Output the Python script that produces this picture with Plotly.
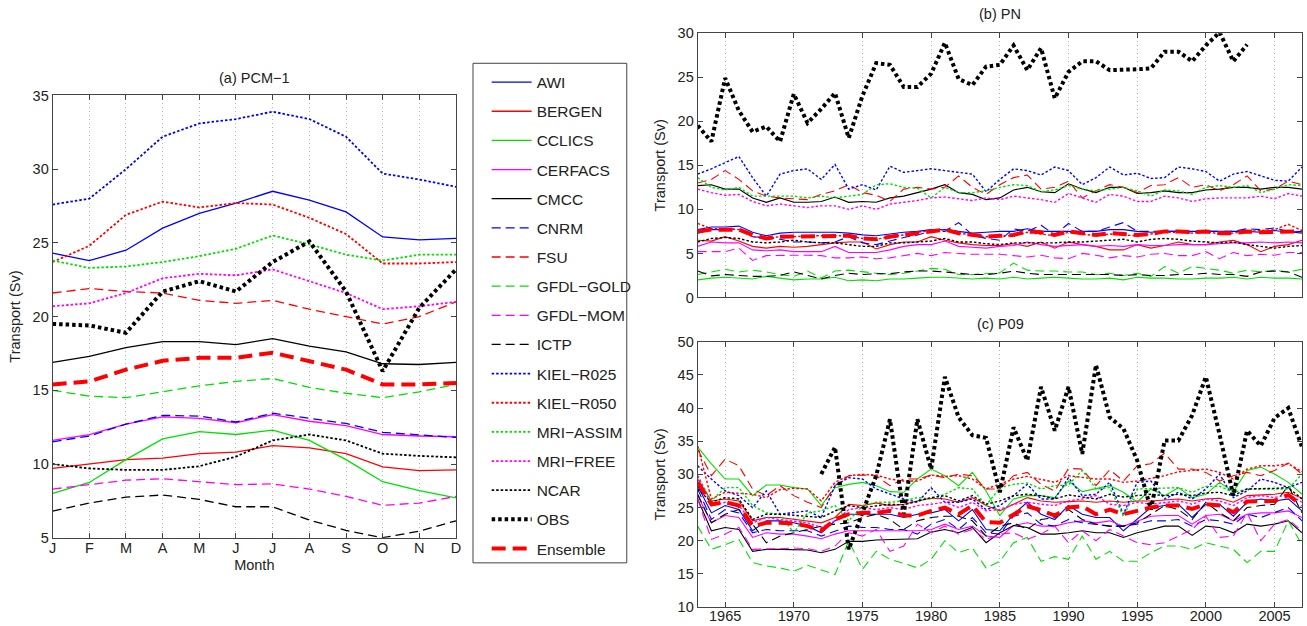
import plotly.graph_objects as go

# ---------------- data ----------------
month_labels = ["J", "F", "M", "A", "M", "J", "J", "A", "S", "O", "N", "D"]
month_x = list(range(1, 13))
years = list(range(1963, 2008))
year_ticks = [1965, 1970, 1975, 1980, 1985, 1990, 1995, 2000, 2005]

series_names = ["AWI", "BERGEN", "CCLICS", "CERFACS", "CMCC", "CNRM", "FSU",
                "GFDL−GOLD", "GFDL−MOM", "ICTP", "KIEL−R025", "KIEL−R050",
                "MRI−ASSIM", "MRI−FREE", "NCAR", "OBS", "Ensemble"]

# (a) PCM-1 monthly climatology
pcm_awi = [24.3, 23.8, 24.5, 26.0, 27.0, 27.7, 28.5, 27.9, 27.1, 25.4, 25.2, 25.3]
pcm_bergen = [9.7, 10.0, 10.3, 10.4, 10.7, 10.8, 11.25, 11.1, 10.7, 9.8, 9.55, 9.6]
pcm_cclics = [8.0, 8.75, 10.3, 11.7, 12.2, 12.0, 12.3, 11.6, 10.3, 8.8, 8.2, 7.7]
pcm_cerfacs = [11.6, 12.0, 12.7, 13.2, 13.1, 12.8, 13.35, 12.9, 12.6, 12.0, 11.9, 11.85]
pcm_cmcc = [16.9, 17.3, 17.9, 18.3, 18.3, 18.1, 18.5, 18.0, 17.6, 16.8, 16.75, 16.9]
pcm_cnrm = [11.5, 11.9, 12.7, 13.3, 13.25, 12.85, 13.45, 13.1, 12.75, 12.15, 12.0, 11.8]
pcm_fsu = [21.6, 21.9, 21.7, 21.6, 21.1, 20.9, 21.1, 20.5, 20.0, 19.5, 20.0, 21.0]
pcm_gold = [15.0, 14.6, 14.5, 14.9, 15.3, 15.6, 15.8, 15.2, 14.8, 14.5, 14.9, 15.4]
pcm_mom = [8.3, 8.6, 8.9, 9.0, 8.8, 8.6, 8.65, 8.3, 7.8, 7.2, 7.35, 7.8]
pcm_ictp = [6.8, 7.35, 7.75, 7.9, 7.6, 7.1, 7.1, 6.2, 5.5, 5.0, 5.45, 6.15]
pcm_k025 = [27.6, 28.0, 30.0, 32.2, 33.1, 33.4, 33.9, 33.4, 32.2, 29.7, 29.3, 28.8]
pcm_k050 = [23.7, 24.8, 26.9, 27.8, 27.4, 27.7, 27.6, 26.7, 25.6, 23.6, 23.6, 23.7]
pcm_assim = [23.8, 23.3, 23.4, 23.7, 24.1, 24.6, 25.5, 24.9, 24.2, 23.8, 24.2, 24.2]
pcm_free = [20.7, 20.9, 21.6, 22.6, 22.9, 22.8, 23.2, 22.4, 21.6, 20.5, 20.7, 21.0]
pcm_ncar = [10.0, 9.7, 9.6, 9.6, 9.85, 10.5, 11.6, 12.0, 11.6, 10.7, 10.55, 10.45]
pcm_obs = [19.5, 19.4, 18.9, 21.7, 22.4, 21.7, 23.7, 25.1, 21.7, 16.3, 20.6, 23.2]
pcm_ens = [15.4, 15.6, 16.4, 17.0, 17.2, 17.2, 17.55, 17.0, 16.4, 15.4, 15.4, 15.5]

# (b) PN annual means 1963-2007
pn_awi = [7.7, 8.0, 8.0, 8.1, 7.4, 7.0, 7.3, 7.4, 7.4, 7.4, 7.4, 7.3, 7.1, 7.0, 7.2, 7.4, 7.5, 7.7, 7.7, 7.5, 7.3,
          7.4, 7.5, 7.5, 7.8, 7.5, 7.5, 7.5, 7.5, 7.5, 7.7, 7.7, 7.5, 7.4, 7.5, 7.5, 7.5, 7.5, 7.5, 7.5, 7.5,
          7.4, 7.6, 7.4, 7.5]
pn_bergen = [6.5, 6.4, 6.9, 6.4, 5.8, 5.6, 5.8, 5.7, 5.8, 6.0, 6.2, 6.3, 6.3, 5.5, 6.0, 6.3, 6.3, 6.9, 6.5, 6.2, 6.0,
             5.9, 5.9, 6.1, 5.8, 6.3, 5.6, 6.3, 6.0, 5.8, 5.4, 5.4, 6.0, 5.6, 5.9, 6.3, 6.0, 6.0, 6.3, 6.5, 6.0,
             5.2, 5.8, 6.0, 6.5]
pn_cclics = [2.0, 2.2, 2.3, 2.2, 2.1, 2.4, 2.2, 2.0, 2.1, 2.1, 2.3, 1.9, 2.0, 1.9, 2.1, 2.1, 2.2, 2.3, 2.3, 2.2, 2.1,
             2.2, 2.1, 2.3, 2.1, 2.2, 2.3, 2.2, 2.1, 2.1, 2.2, 2.0, 2.3, 2.2, 2.2, 2.1, 2.1, 2.2, 2.2, 2.3, 2.1,
             2.3, 2.2, 2.2, 2.1]
pn_cerfacs = [5.8, 6.3, 6.2, 6.2, 5.4, 5.3, 5.4, 5.2, 5.2, 5.2, 5.8, 5.1, 5.1, 5.1, 5.4, 5.8, 6.0, 6.0, 6.4, 5.8, 5.7,
              5.6, 5.8, 5.9, 6.3, 6.0, 5.8, 5.9, 6.0, 5.8, 5.9, 5.8, 6.0, 5.9, 5.9, 6.0, 6.0, 6.0, 6.1, 6.2, 6.2,
              6.3, 6.2, 6.3, 6.2]
pn_cmcc = [12.7, 12.8, 12.3, 12.3, 11.3, 10.8, 11.3, 10.8, 10.8, 10.9, 11.4, 10.8, 10.9, 10.8, 11.3, 11.5, 11.9, 12.3,
           12.8, 11.9, 11.7, 11.1, 11.3, 12.2, 12.5, 12.0, 11.9, 12.9, 12.3, 11.9, 12.5, 12.5, 11.8, 11.9, 12.1, 11.9,
           11.9, 12.2, 12.3, 12.5, 12.5, 12.3, 12.5, 12.5, 12.3]
pn_cnrm = [7.3, 7.7, 7.7, 7.8, 6.9, 6.8, 6.6, 6.3, 6.3, 6.2, 6.3, 6.9, 6.2, 6.0, 6.4, 6.8, 7.1, 7.5, 7.5, 8.5, 7.1,
           6.7, 6.5, 7.8, 7.5, 8.2, 7.1, 8.4, 7.5, 7.5, 8.0, 8.5, 7.5, 7.5, 7.5, 7.5, 7.3, 7.5, 7.5, 7.5, 7.8,
           7.7, 7.9, 7.5, 7.3]
pn_fsu = [13.0, 13.4, 14.4, 13.4, 12.1, 11.5, 11.3, 11.2, 11.1, 11.7, 12.1, 12.8, 11.9, 11.6, 10.9, 12.3, 12.5, 12.3,
          12.5, 13.8, 12.5, 11.7, 12.8, 13.6, 13.9, 12.3, 12.5, 13.2, 11.3, 12.1, 12.8, 12.5, 11.9, 12.7, 12.8, 13.6,
          12.5, 12.8, 12.1, 12.8, 13.8, 12.1, 12.3, 13.2, 12.8]
pn_gold = [2.6, 2.9, 3.2, 2.9, 3.1, 2.9, 2.6, 2.4, 3.0, 2.2, 3.0, 3.1, 2.9, 2.75, 2.6, 2.75, 3.0, 3.3, 3.2, 2.6, 2.6,
           2.7, 2.8, 3.9, 3.1, 3.0, 3.0, 2.9, 2.9, 2.6, 2.75, 2.5, 2.75, 2.4, 3.5, 2.75, 3.5, 3.3, 3.1, 2.75, 3.1,
           2.9, 3.1, 2.9, 3.2]
pn_mom = [5.2, 5.2, 5.2, 5.6, 4.2, 4.75, 4.8, 4.8, 4.8, 4.75, 4.5, 4.5, 4.6, 4.4, 4.5, 4.75, 5.0, 4.75, 5.1, 5.0, 4.9,
          4.9, 4.9, 4.75, 4.6, 4.8, 4.5, 4.4, 5.0, 4.8, 4.5, 4.75, 4.6, 4.9, 5.0, 4.75, 4.75, 5.2, 4.4, 5.1, 4.75,
          4.9, 4.8, 5.1, 5.1]
pn_ictp = [3.0, 2.45, 2.6, 2.5, 2.4, 2.4, 2.5, 2.9, 2.5, 2.1, 2.5, 2.75, 2.6, 2.7, 2.7, 2.9, 3.0, 3.0, 2.9, 2.75, 2.6,
           2.6, 2.75, 3.0, 2.75, 2.6, 2.6, 2.6, 2.6, 2.6, 2.6, 2.5, 2.6, 2.5, 2.5, 2.6, 2.6, 2.75, 2.6, 2.6, 2.4,
           2.9, 3.0, 2.9, 2.3]
pn_k025 = [14.0, 14.6, 15.3, 16.0, 13.6, 11.5, 14.0, 14.4, 14.6, 13.4, 15.1, 12.3, 12.8, 12.2, 14.9, 14.2, 14.4, 14.6,
           14.4, 14.2, 14.0, 12.0, 13.4, 14.6, 14.4, 13.9, 14.8, 14.4, 12.8, 13.6, 14.8, 13.9, 14.1, 13.5, 13.6, 14.8,
           14.6, 14.3, 13.2, 14.0, 14.3, 13.8, 13.3, 13.2, 14.8]
pn_k050 = [8.4, 7.8, 7.8, 7.7, 6.9, 6.7, 6.9, 6.9, 7.0, 7.0, 7.0, 7.0, 6.7, 6.6, 6.9, 7.1, 7.4, 7.6, 7.7, 7.3, 7.1,
           6.9, 7.0, 7.0, 7.4, 7.2, 7.0, 7.4, 7.2, 7.0, 7.2, 7.1, 7.0, 7.2, 7.4, 7.4, 7.3, 7.5, 7.2, 7.3, 7.5,
           7.6, 7.7, 8.3, 7.6]
pn_assim = [13.6, 12.5, 12.2, 12.5, 11.5, 11.5, 11.5, 11.5, 11.3, 11.5, 11.3, 11.5, 11.7, 12.8, 12.9, 12.5, 12.4, 11.3,
            12.5, 11.9, 11.9, 12.1, 12.5, 12.8, 12.7, 12.0, 12.2, 12.7, 12.3, 12.1, 12.3, 12.5, 12.1, 11.5, 12.2, 12.1,
            11.7, 12.5, 12.7, 12.5, 12.7, 11.9, 12.3, 12.8, 12.7]
pn_free = [12.3, 11.9, 11.6, 11.7, 10.9, 10.4, 10.6, 10.4, 10.2, 10.4, 10.4, 10.0, 10.4, 10.0, 10.6, 10.8, 11.0, 11.3,
           11.4, 11.2, 11.0, 11.3, 11.1, 11.5, 11.3, 11.1, 10.8, 11.8, 11.3, 10.8, 11.7, 11.5, 10.9, 10.9, 11.5, 11.3,
           10.9, 11.2, 11.3, 11.3, 11.3, 11.5, 11.2, 11.8, 11.5]
pn_ncar = [6.3, 6.7, 6.8, 6.7, 6.3, 6.2, 6.3, 6.5, 6.3, 6.2, 6.2, 6.0, 5.8, 5.8, 6.2, 6.2, 6.3, 6.4, 6.7, 6.3, 6.3,
           6.1, 6.0, 6.2, 6.2, 6.2, 6.2, 6.3, 6.3, 6.4, 6.5, 6.6, 6.3, 6.6, 6.7, 6.6, 6.4, 6.3, 6.2, 6.3, 6.0,
           5.8, 5.6, 5.8, 5.9]
pn_obs = [19.5, 17.7, 24.9, 21.2, 18.8, 19.4, 17.7, 23.1, 19.8, 21.4, 23.2, 18.1, 22.9, 26.6, 26.4, 23.9, 23.9, 25.4,
          28.9, 24.8, 24.1, 26.2, 26.4, 28.6, 25.8, 28.3, 22.6, 25.6, 26.8, 26.8, 25.8, 25.8, 25.9, 26.0, 27.9, 27.9,
          26.8, 28.6, 30.1, 26.8, 28.7, None, None, None, None]
pn_ens = [7.5, 7.7, 7.7, 7.7, 7.1, 6.7, 6.9, 6.9, 7.0, 7.0, 7.0, 7.0, 6.7, 6.6, 6.9, 7.1, 7.4, 7.6, 7.7, 7.3, 7.1,
          6.9, 7.0, 7.1, 7.5, 7.4, 7.1, 7.5, 7.3, 7.1, 7.3, 7.2, 7.1, 7.2, 7.5, 7.5, 7.4, 7.5, 7.3, 7.3, 7.5,
          7.4, 7.4, 7.5, 7.5]

# (c) P09 annual means 1963-2007
p9_awi = [28.3, 24.2, 25.3, 24.7, 21.5, 23.0, 23.0, 22.7, 22.2, 21.2, 23.0, 24.0, 24.0, 24.0, 24.0, 23.5, 24.0, 24.2,
          24.7, 23.0, 24.7, 21.7, 21.5, 24.0, 25.8, 24.0, 23.2, 25.3, 24.0, 23.5, 23.5, 21.5, 23.2, 25.0, 25.3, 25.5,
          23.5, 25.5, 25.5, 23.7, 25.8, 26.3, 26.0, 26.3, 24.5]
p9_bergen = [29.3, 26.0, 26.3, 26.0, 23.0, 23.5, 23.5, 23.2, 23.0, 22.7, 23.5, 25.5, 25.3, 25.7, 25.3, 25.5, 26.0, 26.4,
             26.3, 25.8, 26.5, 25.3, 24.5, 25.5, 26.5, 26.0, 25.8, 25.9, 26.0, 25.8, 26.0, 25.8, 26.0, 26.0, 26.1, 26.3,
             26.0, 26.3, 26.4, 25.8, 26.8, 26.9, 27.0, 27.3, 26.4]
p9_cclics = [34.1, 31.6, 29.3, 29.3, 26.8, 28.4, 28.4, 28.0, 27.8, 25.3, 28.0, 28.5, 28.8, 28.3, 27.4, 27.3, 29.3, 30.8,
             29.8, 28.3, 30.3, 27.5, 23.8, 26.3, 26.8, 26.8, 26.5, 29.0, 27.4, 27.8, 28.3, 27.3, 25.8, 27.8, 26.8, 28.0,
             26.5, 27.0, 28.8, 27.4, 30.6, 31.1, 30.05, 28.8, 27.0]
p9_cerfacs = [26.8, 22.7, 23.8, 23.5, 20.5, 21.2, 21.0, 21.0, 20.7, 20.3, 21.0, 21.5, 21.5, 21.5, 21.5, 21.6, 21.5,
              21.7, 22.5, 21.7, 22.2, 20.7, 20.5, 22.3, 22.7, 22.2, 22.2, 22.7, 23.0, 22.7, 23.0, 22.2, 23.0, 23.7, 23.8,
              23.8, 22.5, 23.8, 24.0, 23.0, 24.0, 24.2, 24.2, 24.5, 23.5]
p9_cmcc = [26.3, 21.5, 22.0, 21.7, 18.4, 18.7, 18.7, 18.7, 18.6, 18.2, 18.7, 19.9, 19.9, 20.1, 20.2, 20.2, 20.3, 21.3,
           21.7, 21.2, 22.0, 19.7, 21.2, 22.3, 22.0, 21.0, 21.0, 21.2, 21.5, 21.2, 21.2, 20.5, 21.2, 21.7, 22.2, 22.2,
           20.8, 22.2, 22.0, 21.2, 22.5, 22.2, 22.5, 23.0, 21.2]
p9_cnrm = [27.8, 23.2, 24.7, 24.2, 21.2, 21.7, 21.5, 21.5, 21.5, 20.7, 21.5, 22.2, 22.0, 22.0, 21.7, 21.7, 21.0, 22.5,
           23.2, 21.7, 23.5, 21.2, 21.0, 23.7, 24.2, 22.5, 22.2, 23.2, 22.7, 22.5, 22.2, 22.2, 22.5, 23.0, 23.0, 23.2,
           22.2, 23.2, 23.0, 22.5, 24.0, 23.5, 24.2, 25.0, 23.0]
p9_fsu = [33.8, 29.8, 32.3, 31.3, 27.8, 26.8, 28.3, 26.8, 25.8, 25.0, 28.3, 29.8, 29.9, 29.8, 28.3, 29.3, 29.3, 29.9,
          29.5, 30.05, 29.8, 27.8, 27.8, 29.8, 30.3, 28.5, 27.5, 30.9, 30.8, 28.3, 30.7, 29.0, 31.3, 31.6, 33.2, 30.8,
          30.8, 30.3, 29.0, 29.8, 30.3, 29.8, 30.6, 31.7, 30.05]
p9_gold = [22.2, 18.7, 19.4, 20.2, 16.7, 16.2, 15.9, 15.4, 16.3, 15.6, 14.9, 20.0, 15.7, 18.4, 17.2, 16.6, 15.9, 17.2,
           20.0, 18.2, 18.9, 15.9, 16.9, 19.7, 20.5, 16.9, 17.6, 17.2, 20.7, 17.2, 18.4, 16.9, 16.9, 18.2, 19.2, 19.2,
           18.7, 19.7, 19.2, 18.7, 16.7, 18.4, 18.4, 23.0, 19.4]
p9_mom = [26.3, 20.2, 21.0, 22.0, 18.7, 18.7, 18.8, 18.9, 18.8, 18.4, 19.2, 21.2, 20.7, 21.7, 18.4, 19.2, 22.5, 21.2,
          22.2, 21.0, 21.7, 20.2, 21.0, 21.2, 20.2, 21.0, 22.2, 19.7, 21.5, 20.0, 21.7, 20.7, 19.7, 19.4, 19.7, 20.7,
          21.7, 23.7, 20.5, 20.7, 24.2, 20.0, 22.5, 23.2, 21.5]
p9_ictp = [27.0, 22.7, 24.0, 24.7, 22.5, 19.7, 20.7, 21.2, 21.7, 22.2, 22.5, 22.7, 23.5, 24.0, 23.2, 21.7, 23.0, 23.5,
           23.7, 23.7, 23.0, 20.7, 22.2, 22.7, 21.7, 23.2, 23.5, 24.7, 23.2, 22.5, 22.2, 22.2, 22.7, 24.0, 25.3, 24.7,
           23.2, 25.8, 24.2, 23.0, 25.0, 25.3, 25.5, 28.3, 24.2]
p9_k025 = [31.3, 29.3, 27.5, 26.8, 25.0, 27.5, 24.0, 24.2, 24.5, 23.5, 28.3, 29.5, 29.3, 27.8, 27.0, 26.3, 25.8, 28.0,
           25.8, 25.8, 26.3, 24.7, 25.3, 26.8, 28.5, 26.3, 26.3, 29.5, 26.8, 27.0, 28.8, 24.0, 28.8, 29.0, 26.3, 27.3,
           26.3, 27.8, 30.05, 26.5, 27.5, 29.3, 28.8, 28.0, 28.8]
p9_k050 = [34.3, 26.3, 27.3, 27.2, 27.0, 26.5, 27.7, 27.9, 27.8, 26.0, 28.8, 29.8, 30.0, 29.9, 29.3, 29.0, 29.0, 29.9,
           29.7, 29.8, 29.3, 27.8, 28.5, 29.3, 29.7, 29.3, 28.8, 29.8, 29.5, 29.3, 29.3, 28.8, 29.0, 29.4, 29.8, 30.4,
           30.6, 30.8, 30.3, 29.3, 30.8, 31.3, 31.3, 31.6, 30.4]
p9_assim = [29.8, 26.0, 28.0, 28.0, 25.3, 24.2, 24.0, 21.2, 24.2, 24.5, 25.3, 23.0, 25.3, 25.8, 25.8, 26.0, 26.5, 26.3,
            27.0, 28.0, 27.8, 25.3, 28.0, 28.5, 28.7, 27.8, 28.3, 28.4, 30.6, 27.8, 28.0, 23.7, 27.8, 27.9, 27.9, 28.0,
            27.3, 28.2, 28.2, 27.3, 27.8, 27.8, 27.9, 27.8, 30.05]
p9_free = [29.8, 25.3, 25.8, 25.3, 22.7, 23.5, 23.2, 23.0, 22.7, 22.0, 23.0, 24.7, 25.0, 24.7, 25.0, 24.7, 25.3, 25.5,
           25.8, 25.0, 25.8, 24.5, 24.7, 25.5, 25.8, 25.5, 25.3, 26.0, 26.3, 26.8, 25.5, 25.3, 25.8, 25.5, 25.8, 26.0,
           25.5, 26.3, 26.0, 25.3, 26.5, 26.8, 26.5, 27.0, 25.8]
p9_ncar = [27.8, 25.8, 26.5, 26.3, 23.2, 24.0, 24.0, 23.8, 23.7, 23.5, 24.5, 25.3, 25.0, 25.2, 25.5, 25.4, 26.0, 26.5,
           26.8, 26.0, 26.8, 25.5, 26.0, 26.8, 27.0, 26.8, 26.3, 26.9, 26.6, 26.3, 27.0, 26.6, 26.8, 27.0, 26.8, 27.0,
           26.8, 27.2, 27.3, 26.8, 27.8, 27.8, 27.9, 28.0, 26.3]
p9_obs = [None, None, None, None, None, None, None, None, None,
          30.05, 34.1, 18.7, 24.2, 29.8, 38.3, 24.0, 38.3, 30.8, 44.7, 38.6, 35.9, 35.5, 27.3, 37.1, 32.1, 43.2, 36.6,
          43.2, 33.1, 46.5, 38.6, 36.9, 32.1, 24.7, 35.1, 35.1, 38.9, 44.7, 36.0, 26.8, 36.6, 34.3, 38.5, 40.0, 34.1]
p9_ens = [28.8, 25.5, 25.8, 25.3, 22.2, 22.7, 22.7, 22.6, 22.2, 21.5, 23.2, 24.0, 24.2, 24.2, 24.5, 23.8, 23.8, 24.5,
          25.0, 24.0, 25.3, 22.8, 22.7, 24.0, 25.2, 24.6, 23.8, 25.0, 25.2, 24.0, 24.7, 24.0, 24.5, 25.0, 25.3, 25.3,
          24.8, 25.5, 25.3, 24.3, 25.9, 25.9, 26.0, 26.9, 25.3]

pcm_values = [pcm_awi, pcm_bergen, pcm_cclics, pcm_cerfacs, pcm_cmcc, pcm_cnrm, pcm_fsu, pcm_gold, pcm_mom,
              pcm_ictp, pcm_k025, pcm_k050, pcm_assim, pcm_free, pcm_ncar, pcm_obs, pcm_ens]
pn_values = [pn_awi, pn_bergen, pn_cclics, pn_cerfacs, pn_cmcc, pn_cnrm, pn_fsu, pn_gold, pn_mom,
             pn_ictp, pn_k025, pn_k050, pn_assim, pn_free, pn_ncar, pn_obs, pn_ens]
p9_values = [p9_awi, p9_bergen, p9_cclics, p9_cerfacs, p9_cmcc, p9_cnrm, p9_fsu, p9_gold, p9_mom,
             p9_ictp, p9_k025, p9_k050, p9_assim, p9_free, p9_ncar, p9_obs, p9_ens]

# ---------------- styles ----------------
BLUE, RED, GREEN, MAG, BLK = "#0000ff", "#ff0000", "#00e000", "#ff00ff", "#000000"
series_colors = [BLUE, RED, GREEN, MAG, BLK, BLUE, RED, GREEN, MAG, BLK, BLUE, RED, GREEN, MAG, BLK, BLK, RED]
series_kind = ["solid"] * 5 + ["dash"] * 5 + ["dot"] * 5 + ["obs", "ens"]


def line_style(kind, color, big):
    if kind == "solid":
        return dict(color=color, width=1.3 if big else 1.1, dash="solid")
    if kind == "dash":
        return dict(color=color, width=1.3 if big else 1.1, dash="9px,5px")
    if kind == "dot":
        return dict(color=color, width=1.8 if big else 1.4, dash="2.5px,2px")
    if kind == "obs":
        return dict(color=color, width=4, dash="3.5px,3px")
    return dict(color=color, width=4, dash="14px,7px")


# figure size and mapping from target-picture pixels to paper coordinates
WF, HF = 1307, 640
SX, OX = 0.9946, 3.3
SY, OY = 0.970, 8.0


def fx(p):
    return min(1.0, max(0.0, ((p - OX) / SX) / WF))


def fy(p):
    return min(1.0, max(0.0, 1 - ((p - OY) / SY) / HF))


FONT = "Liberation Sans, Arial, Helvetica, sans-serif"
TXT = "#222222"
AX = "#444444"
FS = 14.5

fig = go.Figure()
for i, name in enumerate(series_names):
    c, k = series_colors[i], series_kind[i]
    fig.add_trace(go.Scatter(x=month_x, y=pcm_values[i], mode="lines", name=name, legendgroup=name,
                             line=line_style(k, c, True), xaxis="x", yaxis="y", showlegend=True))
    fig.add_trace(go.Scatter(x=years, y=pn_values[i], mode="lines", name=name, legendgroup=name,
                             line=line_style(k, c, False), xaxis="x2", yaxis="y2", showlegend=False))
    fig.add_trace(go.Scatter(x=years, y=p9_values[i], mode="lines", name=name, legendgroup=name,
                             line=line_style(k, c, False), xaxis="x3", yaxis="y3", showlegend=False))


def axis(**kw):
    base = dict(showline=True, linecolor=AX, linewidth=1, mirror="allticks", ticks="inside", ticklen=5,
                tickcolor=AX, zeroline=False, showgrid=False,
                tickfont=dict(size=FS, color=TXT, family=FONT))
    base.update(kw)
    return base


xgrid = dict(showgrid=True, gridcolor="#b4b4b4", griddash="1px,3px", gridwidth=1)
ytitle = dict(text="Transport (Sv)", font=dict(size=FS, color=TXT, family=FONT), standoff=8)


def ann(text, xp, yp):
    return dict(text=text, x=fx(xp), y=fy(yp), xref="paper", yref="paper", showarrow=False,
                xanchor="center", yanchor="middle", font=dict(size=FS, color=TXT, family=FONT))


fig.update_layout(
    width=WF, height=HF, margin=dict(l=0, r=0, t=0, b=0),
    paper_bgcolor="white", plot_bgcolor="white",
    font=dict(family=FONT, color=TXT),
    xaxis=axis(domain=[fx(52), fx(456)], anchor="y", range=[1, 12], tickvals=month_x, ticktext=month_labels,
               ticklabelstandoff=-3,
               title=dict(text="Month", font=dict(size=FS, color=TXT, family=FONT), standoff=4), **xgrid),
    yaxis=axis(domain=[fy(535), fy(95)], anchor="x", range=[5, 35], dtick=5, title=ytitle),
    xaxis2=axis(domain=[fx(698), fx(1304)], anchor="y2", range=[1963, 2007], tickvals=year_ticks,
                showticklabels=False, **xgrid),
    yaxis2=axis(domain=[fy(296), fy(33)], anchor="x2", range=[0, 30], dtick=5, title=ytitle),
    xaxis3=axis(domain=[fx(698), fx(1304)], anchor="y3", range=[1963, 2007], tickvals=year_ticks,
                ticklabelstandoff=-4, **xgrid),
    yaxis3=axis(domain=[fy(604), fy(340)], anchor="x3", range=[10, 50], dtick=5, title=ytitle),
    legend=dict(x=486 / WF, y=1 - 59 / HF, xanchor="left", yanchor="top", bgcolor="rgba(0,0,0,0)",
                borderwidth=0, font=dict(size=15.5, color=TXT, family=FONT), tracegroupgap=6,
                traceorder="grouped", itemwidth=40),
    shapes=[dict(type="rect", xref="paper", yref="paper", x0=fx(473), x1=fx(627), y0=fy(560), y1=fy(63),
                 line=dict(color=AX, width=1), fillcolor="rgba(0,0,0,0)", layer="below")],
    annotations=[ann("(a) PCM−1", 254, 78), ann("(b) PN", 1001, 14), ann("(c) P09", 1001, 322)],
)

fig.write_html(
    "out.html",
    config={"displayModeBar": False},
    post_script=(
        "document.documentElement.style.margin='0';document.documentElement.style.padding='0';"
        "document.body.style.margin='0';document.body.style.padding='0';document.body.style.overflow='hidden';"
        "var d=document.getElementsByClassName('plotly-graph-div')[0];"
        "d.style.position='absolute';d.style.left='0px';d.style.top='0px';"
    ),
)
